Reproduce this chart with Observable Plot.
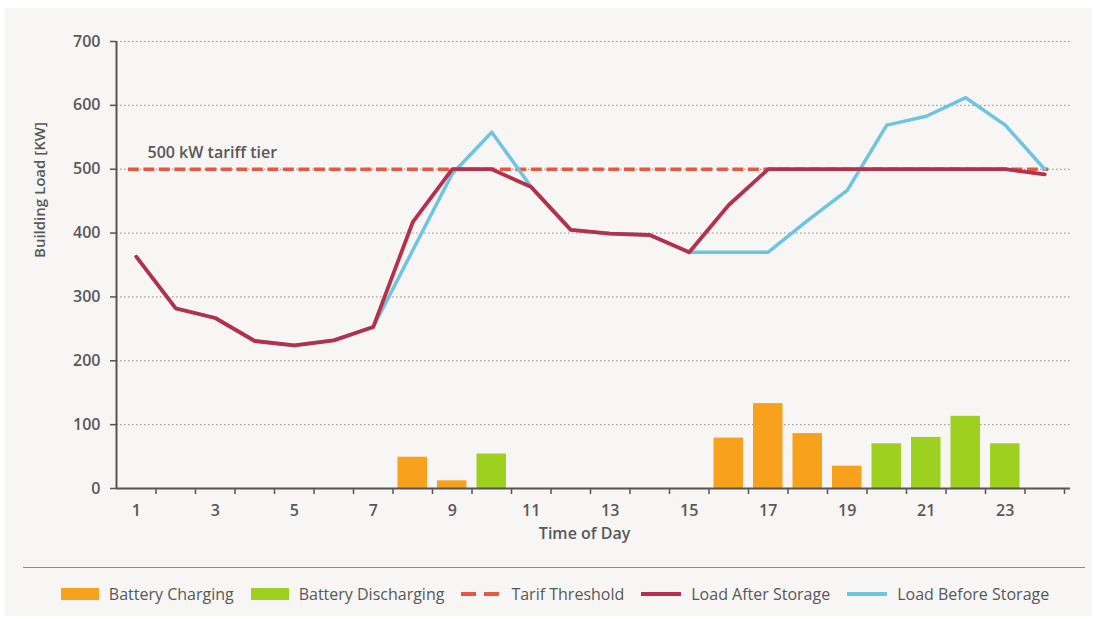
<!DOCTYPE html>
<html><head><meta charset="utf-8">
<script src="https://cdn.jsdelivr.net/npm/d3@7"></script>
<script src="https://cdn.jsdelivr.net/npm/@observablehq/plot@0.6"></script>
<style>
body{margin:0;background:#fff;font-family:"Open Sans",sans-serif;}
#bg{position:absolute;left:5px;top:8px;width:1087px;height:608px;background:#f7f6f4;}
#chart{position:absolute;left:0;top:0;}
#sep{position:absolute;left:23px;top:567px;width:1062px;height:0;border-top:1.5px solid #8a8a8a;}
#legend{position:absolute;left:0;top:582px;width:1110px;height:24px;display:flex;justify-content:center;align-items:center;gap:17px;font-size:16px;color:#585858;}
.item{display:flex;align-items:center;gap:10px;white-space:nowrap;}
.item svg{display:block;}
</style></head><body>
<div id="bg"></div><div id="chart"></div><div id="sep"></div><div id="legend"></div>
<script>
const hours = d3.range(1, 25);
const loadAfter  = [363, 282, 267, 231, 224, 232, 253, 417, 500, 500, 472, 405, 399, 397, 370, 444, 500, 500, 500, 500, 500, 500, 500, 492];
const loadBefore = [363, 282, 267, 231, 224, 232, 253, 373, 493, 558, 472, 405, 399, 397, 370, 370, 370, 420, 467, 569, 583, 612, 569, 500];
const charging    = [0, 0, 0, 0, 0, 0, 0, 49, 12, 0, 0, 0, 0, 0, 0, 79, 133, 86, 35, 0, 0, 0, 0, 0];
const discharging = [0, 0, 0, 0, 0, 0, 0, 0, 0, 54, 0, 0, 0, 0, 0, 0, 0, 0, 0, 70, 80, 113, 70, 0];
const threshold = 500;
const yTicks = [0, 100, 200, 300, 400, 500, 600, 700];
const xLabels = [1, 3, 5, 7, 9, 11, 13, 15, 17, 19, 21, 23];
const annotation = "500 kW tariff tier";
const seriesNames = ["Battery Charging", "Battery Discharging", "Tarif Threshold", "Load After Storage", "Load Before Storage"];
const colors = {charge: "#f8a11d", discharge: "#9dd01f", threshold: "#e8573f", after: "#b5304c", before: "#6dc5df"};

const data = hours.map((h, i) => ({h, after: loadAfter[i], before: loadBefore[i], charge: charging[i], discharge: discharging[i]}));
const boundaries = hours.map(h => h + 0.5);
const xDomain = [hours[0] - 0.5, hours[hours.length - 1] + 0.5];
const txt = "#585858";

const chart = Plot.plot({
  width: 1097, height: 560,
  marginLeft: 116, marginTop: 41, marginBottom: 72, marginRight: 27,
  style: {background: "transparent", fontFamily: "Open Sans", fontSize: "16px", color: txt},
  x: {domain: xDomain, range: [116, 1064]},
  y: {domain: [0, 700]},
  marks: [
    Plot.ruleY(yTicks.filter(v => v > 0), {stroke: "#8c8c8c", strokeWidth: 1, strokeDasharray: "1.5,2.5"}),
    Plot.rectY(data.filter(d => d.charge > 0), {x1: d => d.h - 0.5, x2: d => d.h + 0.5, y: "charge", insetLeft: 5, insetRight: 5, fill: colors.charge}),
    Plot.rectY(data.filter(d => d.discharge > 0), {x1: d => d.h - 0.5, x2: d => d.h + 0.5, y: "discharge", insetLeft: 5, insetRight: 5, fill: colors.discharge}),
    Plot.ruleY([threshold], {x1: hours[0] - 0.2, x2: hours[hours.length - 1] + 0.1, stroke: colors.threshold, strokeWidth: 3.5, strokeDasharray: "11,4.5"}),
    Plot.line(data, {x: "h", y: "before", stroke: colors.before, strokeWidth: 3.5}),
    Plot.line(data, {x: "h", y: "after", stroke: colors.after, strokeWidth: 3.8}),
    Plot.text([annotation], {x: () => xDomain[0], y: () => threshold, dx: 31, dy: -16, textAnchor: "start", fill: txt, fontSize: 16, fontWeight: 600}),
    Plot.axisY({ticks: yTicks, tickSize: 6, tickPadding: 10, label: null, fontWeight: 600, stroke: "#555", strokeWidth: 1.5, fill: txt}),
    Plot.ruleX([xDomain[0]], {stroke: "#555", strokeWidth: 2}),
    Plot.ruleY([0], {stroke: "#555", strokeWidth: 2}),
    Plot.axisX({ticks: boundaries, tickSize: 6, tickFormat: () => "", label: null, stroke: "#555", strokeWidth: 1.5}),
    Plot.axisX({ticks: xLabels, tickSize: 0, tickPadding: 16, label: null, fontWeight: 600, fill: txt}),
    Plot.text(["Time of Day"], {x: () => 12.35, frameAnchor: "bottom", dy: 50, fill: txt, fontSize: 16, fontWeight: 600}),
    Plot.text(["Building Load [KW]"], {frameAnchor: "left", dx: -76.5, dy: -7, rotate: -90, fill: txt, fontSize: 15, fontWeight: 600})
  ]
});
document.getElementById("chart").appendChild(chart);

const swatches = [
  `<svg width="38" height="12"><rect width="38" height="12" fill="${colors.charge}"/></svg>`,
  `<svg width="38" height="12"><rect width="38" height="12" fill="${colors.discharge}"/></svg>`,
  `<svg width="40" height="12"><line x1="0" x2="40" y1="6" y2="6" stroke="${colors.threshold}" stroke-width="4" stroke-dasharray="15,8"/></svg>`,
  `<svg width="40" height="12"><line x1="0" x2="40" y1="6" y2="6" stroke="${colors.after}" stroke-width="4"/></svg>`,
  `<svg width="40" height="12"><line x1="0" x2="40" y1="6" y2="6" stroke="${colors.before}" stroke-width="4"/></svg>`
];
document.getElementById("legend").innerHTML = seriesNames.map((n, i) => `<div class="item">${swatches[i]}<span>${n}</span></div>`).join("");
</script>
</body></html>
